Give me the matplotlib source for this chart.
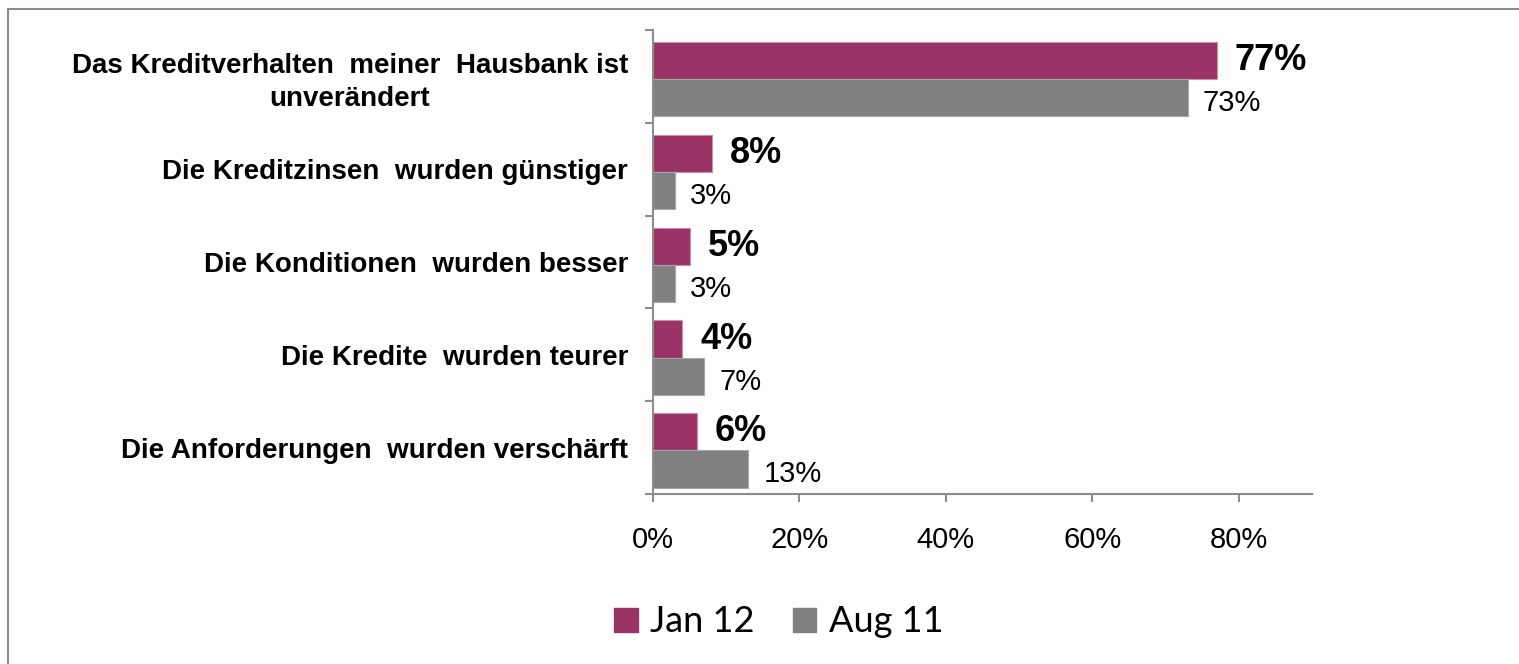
"""Balkendiagramm - Kreditverhalten der Hausbank (Jan 12 vs. Aug 11)"""
import matplotlib
matplotlib.use('Agg')
import matplotlib.pyplot as plt
from matplotlib.patches import Patch, Rectangle
from matplotlib.ticker import PercentFormatter
import numpy as np

# Daten
categories = [
    'Das Kreditverhalten  meiner  Hausbank ist\nunverändert',
    'Die Kreditzinsen  wurden günstiger',
    'Die Konditionen  wurden besser',
    'Die Kredite  wurden teurer',
    'Die Anforderungen  wurden verschärft',
]
jan12 = [0.77, 0.08, 0.05, 0.04, 0.06]
aug11 = [0.73, 0.03, 0.03, 0.07, 0.13]
series_names = ['Jan 12', 'Aug 11']
xticks = [0.0, 0.2, 0.4, 0.6, 0.8]

col_jan = '#993366'
col_aug = '#808080'
axis_col = '#8c8c8c'

W, H = 1519, 664
fig = plt.figure(figsize=(W / 100, H / 100), dpi=100)
ax = fig.add_axes([653 / W, 1 - 494 / H, (1312 - 653) / W, (494 - 30) / H])

y = np.arange(len(categories))
bh = 0.4
off = 0.03
bars_jan = ax.barh(y - bh / 2 + off, jan12, height=bh, color=col_jan,
                   edgecolor='#c890ac', linewidth=0.8)
bars_aug = ax.barh(y + bh / 2 + off, aug11, height=bh, color=col_aug,
                   edgecolor='#a8a8a8', linewidth=0.8)

# Werte beschriften
for b, v in zip(bars_jan, jan12):
    ax.annotate(f'{v * 100:.0f}%', (b.get_width(), b.get_y() + b.get_height() / 2),
                xytext=(13, 0), textcoords='offset points', va='center', ha='left',
                fontsize=26, fontweight='bold', family='Liberation Sans')
for b, v in zip(bars_aug, aug11):
    ax.annotate(f'{v * 100:.0f}%', (b.get_width(), b.get_y() + b.get_height() / 2),
                xytext=(11, -4), textcoords='offset points', va='center', ha='left',
                fontsize=21, family='Liberation Sans')

ax.set_xlim(0, 0.9)
ax.set_ylim(len(categories) - 0.5, -0.5)
ax.set_xticks(xticks)
ax.xaxis.set_major_formatter(PercentFormatter(1.0, decimals=0))
ax.set_yticks(np.arange(len(categories) + 1) - 0.5)
ax.set_yticklabels([])
ax.set_yticks(y, minor=True)
ax.set_yticklabels(categories, minor=True, fontsize=20, fontweight='bold',
                   family='Liberation Sans', multialignment='center',
                   linespacing=1.35)
ax.tick_params(axis='y', which='minor', length=0, pad=18)
ax.tick_params(axis='y', which='major', length=6, width=1.5, color=axis_col)
ax.tick_params(axis='x', length=6, width=1.5, color=axis_col, pad=17,
               labelsize=21)
for lab in ax.get_xticklabels():
    lab.set_family('Liberation Sans')

for s in ['top', 'right']:
    ax.spines[s].set_visible(False)
for s in ['left', 'bottom']:
    ax.spines[s].set_color(axis_col)
    ax.spines[s].set_linewidth(1.5)

# Legende
handles = [Patch(color=col_jan), Patch(color=col_aug)]
fig.legend(handles, series_names, loc='center', bbox_to_anchor=(779 / W, 1 - 622 / H),
           ncol=2, frameon=False, handlelength=0.65, handleheight=0.65,
           handletextpad=0.35, columnspacing=1.05,
           prop={'family': 'Lato', 'size': 26})

# Rahmen
fig.patches.append(Rectangle((8 / W, -0.1), 1.2, 1 - 9 / H + 0.1,
                             transform=fig.transFigure, fill=False,
                             edgecolor='#8c8c8c', linewidth=1.5))

plt.savefig('out.png', dpi=100)
plt.close()
